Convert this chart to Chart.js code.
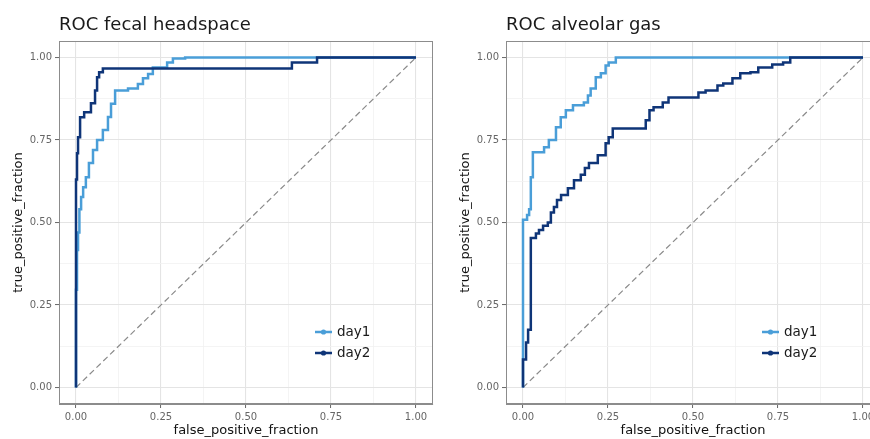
<!DOCTYPE html>
<html><head><meta charset="utf-8">
<script src="https://cdn.jsdelivr.net/npm/chart.js@4/dist/chart.umd.min.js"></script>
<style>
html,body{margin:0;padding:0;background:#fff;overflow:hidden;width:870px;height:439px;}
#wrap{position:relative;width:870px;height:439px;overflow:hidden;background:#fff;}
canvas{position:absolute;top:0;}
#c1{left:0px}
#c2{left:440px}
</style></head><body>
<div id="wrap"><canvas id="c1" width="440" height="439"></canvas><canvas id="c2" width="440" height="439"></canvas></div>
<script>
// ---- data ----
const panelTitles = ['ROC fecal headspace', 'ROC alveolar gas'];
const seriesNames = ['day1', 'day2'];
const majorTicks = [0, 0.25, 0.5, 0.75, 1];
const xAxisTitle = 'false_positive_fraction';
const yAxisTitle = 'true_positive_fraction';

// fecal headspace, day1
const fecal_day1_fpr = [0, 0.003, 0.006, 0.010, 0.015, 0.021, 0.029, 0.038, 0.050, 0.062, 0.079, 0.094, 0.103, 0.115, 0.153, 0.182, 0.197, 0.212, 0.226, 0.268, 0.285, 0.321, 1.0];
const fecal_day1_tpr = [0, 0.296, 0.417, 0.470, 0.540, 0.577, 0.607, 0.637, 0.680, 0.720, 0.750, 0.780, 0.820, 0.860, 0.900, 0.906, 0.920, 0.937, 0.950, 0.970, 0.985, 0.997, 1.0];
// fecal headspace, day2
const fecal_day2_fpr = [0, 0.003, 0.006, 0.012, 0.024, 0.044, 0.056, 0.062, 0.068, 0.079, 0.635, 0.709, 1.0];
const fecal_day2_tpr = [0, 0.630, 0.710, 0.758, 0.819, 0.834, 0.861, 0.900, 0.940, 0.955, 0.967, 0.985, 1.0];
// alveolar gas, day1
const alv_day1_fpr = [0, 0.012, 0.018, 0.023, 0.029, 0.062, 0.076, 0.097, 0.111, 0.126, 0.147, 0.179, 0.191, 0.199, 0.214, 0.229, 0.243, 0.252, 0.273, 1.0];
const alv_day1_tpr = [0, 0.508, 0.523, 0.540, 0.637, 0.713, 0.728, 0.750, 0.789, 0.819, 0.840, 0.855, 0.864, 0.885, 0.906, 0.940, 0.952, 0.976, 0.985, 1.0];
// alveolar gas, day2
const alv_day2_fpr = [0, 0.009, 0.015, 0.023, 0.038, 0.047, 0.059, 0.073, 0.082, 0.091, 0.100, 0.112, 0.132, 0.150, 0.170, 0.182, 0.194, 0.220, 0.243, 0.252, 0.264, 0.361, 0.372, 0.384, 0.411, 0.428, 0.516, 0.537, 0.572, 0.589, 0.616, 0.639, 0.669, 0.692, 0.733, 0.765, 0.786, 1.0];
const alv_day2_tpr = [0, 0.085, 0.136, 0.175, 0.453, 0.467, 0.477, 0.490, 0.500, 0.530, 0.547, 0.568, 0.583, 0.604, 0.628, 0.645, 0.665, 0.680, 0.704, 0.740, 0.758, 0.785, 0.810, 0.840, 0.849, 0.864, 0.879, 0.894, 0.900, 0.915, 0.921, 0.937, 0.952, 0.955, 0.970, 0.979, 0.985, 1.0];
// chance diagonal
const diag_fpr = [0, 1];
const diag_tpr = [0, 1];

// ---- styling ----
const colDay1 = '#4a9ed8';
const colDay2 = '#0f3578';
Chart.defaults.font.family = '"DejaVu Sans", sans-serif';

function pts(xs, ys) { return xs.map((x, i) => ({ x: x, y: ys[i] })); }
const minorTicks = majorTicks.slice(0, -1).map((v, i) => (v + majorTicks[i + 1]) / 2);
const allTicks = majorTicks.concat(minorTicks).sort((a, b) => a - b);
const isMajor = v => majorTicks.some(m => Math.abs(m - v) < 1e-9);

const decorPlugin = {
  id: 'decor',
  afterDatasetsDraw(chart, args, opts) {
    const { ctx, chartArea: a } = chart;
    ctx.save();
    ctx.strokeStyle = '#8c8c8c';
    ctx.lineWidth = 1;
    ctx.strokeRect(a.left + 0.5, a.top + 0.5, a.right - a.left - 1, a.bottom - a.top - 1);
    // title
    ctx.fillStyle = '#1a1a1a';
    ctx.font = '18px "DejaVu Sans"';
    ctx.textBaseline = 'alphabetic';
    ctx.textAlign = 'left';
    ctx.fillText(opts.title, a.left, 30);
    // legend
    const ds = chart.data.datasets;
    [1, 0].forEach((di, k) => {
      const d = ds[di];
      const y = a.top + 291 + k * 21;
      const x0 = a.left + 256;
      ctx.strokeStyle = d.borderColor;
      ctx.lineWidth = 2.5;
      ctx.beginPath(); ctx.moveTo(x0, y); ctx.lineTo(x0 + 17, y); ctx.stroke();
      ctx.fillStyle = d.borderColor;
      ctx.beginPath(); ctx.arc(x0 + 8.5, y, 2.6, 0, Math.PI * 2); ctx.fill();
      ctx.fillStyle = '#1a1a1a';
      ctx.font = '13.5px "DejaVu Sans"';
      ctx.textBaseline = 'middle';
      ctx.fillText(d.label, x0 + 22, y + 0.5);
    });
    ctx.restore();
  }
};

function makeChart(id, title, d1x, d1y, d2x, d2y, yWidth, padRight) {
  const scaleCommon = {
    type: 'linear', min: -0.05, max: 1.05,
    afterBuildTicks: s => { s.ticks = allTicks.map(v => ({ value: v })); },
    ticks: {
      autoSkip: false, maxRotation: 0, color: '#666', padding: 3,
      font: { size: 10 },
      callback: v => isMajor(v) ? v.toFixed(2) : ''
    },
    grid: {
      drawTicks: true, tickLength: 4,
      color: c => (c.tick && isMajor(c.tick.value)) ? '#e4e4e4' : '#f1f1f1',
      lineWidth: c => (c.tick && isMajor(c.tick.value)) ? 1.1 : 0.8,
      tickColor: c => (c.tick && isMajor(c.tick.value)) ? '#666' : 'rgba(0,0,0,0)',
      tickWidth: 1
    },
    border: { display: true, color: '#8c8c8c', width: 1 }
  };
  return new Chart(document.getElementById(id), {
    type: 'scatter',
    data: {
      datasets: [
        { label: seriesNames[1], data: pts(d2x, d2y), borderColor: colDay2, backgroundColor: colDay2, showLine: true, stepped: 'after', borderWidth: 2.5, pointRadius: 0 },
        { label: seriesNames[0], data: pts(d1x, d1y), borderColor: colDay1, backgroundColor: colDay1, showLine: true, stepped: 'after', borderWidth: 2.5, pointRadius: 0 },
        { label: 'diag', data: pts(diag_fpr, diag_tpr), borderColor: '#8a8a8a', showLine: true, borderDash: [6, 3.5], borderWidth: 1.2, pointRadius: 0 }
      ]
    },
    options: {
      responsive: false, animation: false, devicePixelRatio: 1,
      layout: { padding: { top: 41, left: 0, right: padRight, bottom: 0 } },
      plugins: { legend: { display: false }, tooltip: { enabled: false }, decor: { title: title } },
      scales: {
        x: Object.assign({}, scaleCommon, {
          position: 'bottom',
          afterFit: s => { s.height = 35; },
          title: { display: true, text: xAxisTitle, color: '#111', font: { size: 13 }, padding: { top: 0, bottom: 1 } }
        }),
        y: Object.assign({}, scaleCommon, {
          position: 'left',
          afterFit: s => { s.width = yWidth; },
          title: { display: true, text: yAxisTitle, color: '#111', font: { size: 13 }, padding: { top: yWidth - 47.8, bottom: 0 } }
        })
      }
    },
    plugins: [decorPlugin]
  });
}

makeChart('c1', panelTitles[0], fecal_day1_fpr, fecal_day1_tpr, fecal_day2_fpr, fecal_day2_tpr, 59, 7);
makeChart('c2', panelTitles[1], alv_day1_fpr, alv_day1_tpr, alv_day2_fpr, alv_day2_tpr, 66, 0);
</script>
</body></html>
